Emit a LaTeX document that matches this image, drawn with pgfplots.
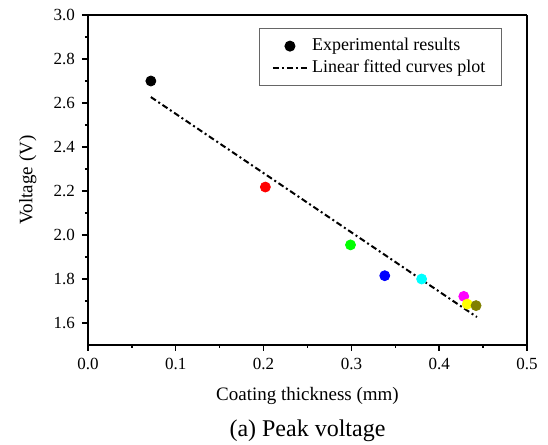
\documentclass[border=0pt]{standalone}
\usepackage{pgfplots}
\pgfplotsset{compat=1.18}
\usepackage{fontspec}
\setmainfont{Liberation Serif}
\definecolor{pgreen}{RGB}{0,255,0}
\definecolor{pred}{RGB}{255,0,0}
\definecolor{pblue}{RGB}{0,0,255}
\definecolor{pcyan}{RGB}{0,255,255}
\definecolor{pmagenta}{RGB}{255,0,255}
\definecolor{pyellow}{RGB}{255,255,0}
\definecolor{polive}{RGB}{128,128,0}
\begin{document}
\begin{tikzpicture}
\useasboundingbox (-44pt,-50pt) rectangle (230pt,172.5pt);
\begin{axis}[
  at={(0pt,0pt)}, anchor=south west,
  scale only axis, width=219.5pt, height=165pt,
  xmin=0, xmax=0.5, ymin=1.5, ymax=3.0,
  xtick={0,0.1,...,0.5}, ytick={1.6,1.8,...,3.0},
  minor x tick num=1, minor y tick num=1,
  xticklabel style={/pgf/number format/fixed,/pgf/number format/fixed zerofill,/pgf/number format/precision=1,font=\fontsize{8.5}{10}\selectfont},
  yticklabel style={/pgf/number format/fixed,/pgf/number format/fixed zerofill,/pgf/number format/precision=1,font=\fontsize{8.5}{10}\selectfont},
  /pgf/number format/assume math mode=true,
  axis x line*=bottom, axis y line*=left,
  tick align=outside, major tick length=3pt, minor tick length=1.5pt,
  axis line style={line width=0.9pt}, tick style={line width=0.7pt, black},
  every outer x axis line/.append style={-}, every outer y axis line/.append style={-},
  xlabel={Coating thickness (mm)}, ylabel={Voltage (V)},
  label style={font=\fontsize{9.5}{11}\selectfont},
  xlabel style={at={(axis description cs:0.5,-0.155)}, anchor=center},
  ylabel style={at={(axis description cs:-0.137,0.5)}, anchor=center},
  legend style={at={(axis description cs:0.943,0.961)}, anchor=north east, draw=black!60, line width=0.5pt, font=\fontsize{9}{10.5}\selectfont, inner xsep=6pt, inner ysep=3pt, row sep=-1pt},
  legend cell align=left,
  clip=false,
]
\draw[line width=0.9pt] (axis cs:0.5,1.5) -- (axis cs:0.5,3.0);
\draw[line width=0.9pt] (axis cs:0,3.0) -- (axis cs:0.5,3.0);
\addplot[only marks, mark=*, mark size=2.5pt, color=black] coordinates {(0.0716,2.700)};
\addlegendentry{Experimental results}
\addplot[black, line width=1pt, dash pattern=on 3pt off 1.5pt on 1pt off 1.5pt] coordinates {(0.0716,2.627) (0.443,1.627)};
\addlegendentry{Linear fitted curves plot}
\addplot[forget plot, only marks, mark=*, mark size=2.5pt, color=pred] coordinates {(0.202,2.218)};
\addplot[forget plot, only marks, mark=*, mark size=2.5pt, color=pgreen] coordinates {(0.299,1.955)};
\addplot[forget plot, only marks, mark=*, mark size=2.5pt, color=pblue] coordinates {(0.338,1.815)};
\addplot[forget plot, only marks, mark=*, mark size=2.5pt, color=pcyan] coordinates {(0.380,1.800)};
\addplot[forget plot, only marks, mark=*, mark size=2.5pt, color=pmagenta] coordinates {(0.428,1.721)};
\addplot[forget plot, only marks, mark=*, mark size=2.5pt, color=pyellow] coordinates {(0.432,1.686)};
\addplot[forget plot, only marks, mark=*, mark size=2.5pt, color=polive] coordinates {(0.442,1.679)};
\end{axis}
\node[font=\fontsize{12}{14}\selectfont] at (109.75pt,-43pt) {(a) Peak voltage};
\end{tikzpicture}
\end{document}
